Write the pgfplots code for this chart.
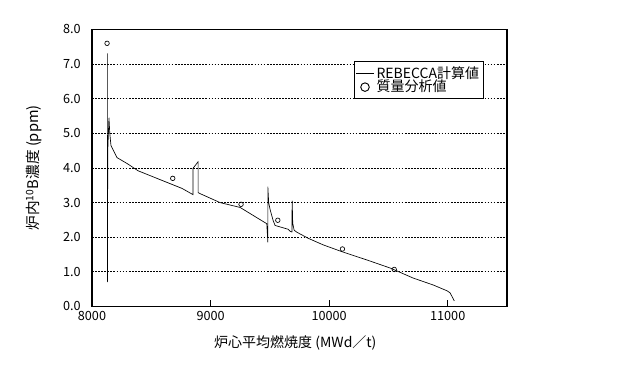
\documentclass[border=0pt]{standalone}
\usepackage{fontspec}
\setmainfont{Noto Sans CJK JP}
\usepackage{pgfplots}
\usetikzlibrary{calc}
\pgfplotsset{compat=1.18}
\begin{document}
\begin{tikzpicture}
\path[use as bounding box] (0pt,0pt) rectangle (465pt,288.75pt);
\begin{axis}[
  name=ax,
  at={(69pt,58.9pt)}, anchor=south west,
  scale only axis, width=311.25pt, height=207.75pt,
  xmin=8000, xmax=11500, ymin=0, ymax=8,
  xtick={8000,9000,10000,11000},
  ytick={0,1,2,3,4,5,6,7,8},
  scaled x ticks=false,
  yticklabel style={xshift=-5pt,/pgf/number format/.cd,fixed,fixed zerofill,precision=1},
  xticklabel style={/pgf/number format/1000 sep={}},
  /pgf/number format/assume math mode=true,
  tick label style={font=\fontsize{9.5}{11}\selectfont},
  tick align=inside,
  xtick pos=bottom,
  major tick length=5pt,
  xtick style={black, line width=0.8pt},
  ytick style={opacity=0},
  axis line style={black, line width=1.2pt},
  ymajorgrids, grid style={black, line width=0.7pt, dash pattern=on 1.3pt off 1pt},
  xlabel={炉心平均燃焼度 (MWd／t)},
  ylabel={炉内\textsuperscript{10}B濃度 (ppm)},
  xlabel style={font=\fontsize{10.5}{12}\selectfont, at={(axis description cs:0.49,-0.132)}, anchor=center},
  ylabel style={font=\fontsize{11}{12}\selectfont, at={(axis description cs:-0.14,0.5)}, anchor=center},
  legend style={draw=black, line width=0.6pt, at={(0.945,0.885)}, anchor=north east,
    font=\fontsize{10.5}{11}\selectfont, row sep=-4pt, inner sep=1.5pt},
  legend cell align=left,
]
\addplot[black, line width=0.5pt, legend image code/.code={\draw[black, line width=0.6pt] (0cm,0cm) -- (0.45cm,0cm);}] coordinates {
(8130,7.31) (8130,0.70) (8133,4.5) (8143,5.45) (8150,5.0) (8160,4.65)
(8211,4.30) (8300,4.12) (8388,3.92) (8591,3.64) (8759,3.41) (8852,3.23)
(8852,3.99) (8895,4.18) (8895,3.29) (8911,3.26) (9080,3.00) (9249,2.86)
(9474,2.39) (9483,1.85) (9483,3.46) (9490,3.0) (9502,2.80) (9527,2.49)
(9544,2.34) (9654,2.23) (9671,2.17) (9686,2.15) (9688,3.06) (9693,2.4)
(9705,2.20) (9730,2.14) (9823,1.97) (9949,1.78) (10118,1.57) (10321,1.34)
(10515,1.11) (10709,0.82) (10878,0.62) (10996,0.45) (11021,0.39) (11055,0.16)
};
\addlegendentry{REBECCA計算値}
\addplot[only marks, mark=o, mark size=1.7pt, black, mark options={line width=0.5pt},
  legend image code/.code={\draw[black, line width=0.7pt] (0.225cm,0cm) circle (3.2pt);}] coordinates {
(8127,7.60) (8681,3.70) (9257,2.95) (9567,2.49) (10112,1.66) (10549,1.07)
};
\addlegendentry{質量分析値}
\end{axis}
\draw[black, line width=1.2pt] (ax.south west) rectangle (ax.north east);
\foreach \k in {1,2,3} {\draw[black, line width=0.8pt] ($(ax.south west)!\k/3.5!(ax.south east)$) -- ++(0,5pt);}
\end{tikzpicture}
\end{document}
